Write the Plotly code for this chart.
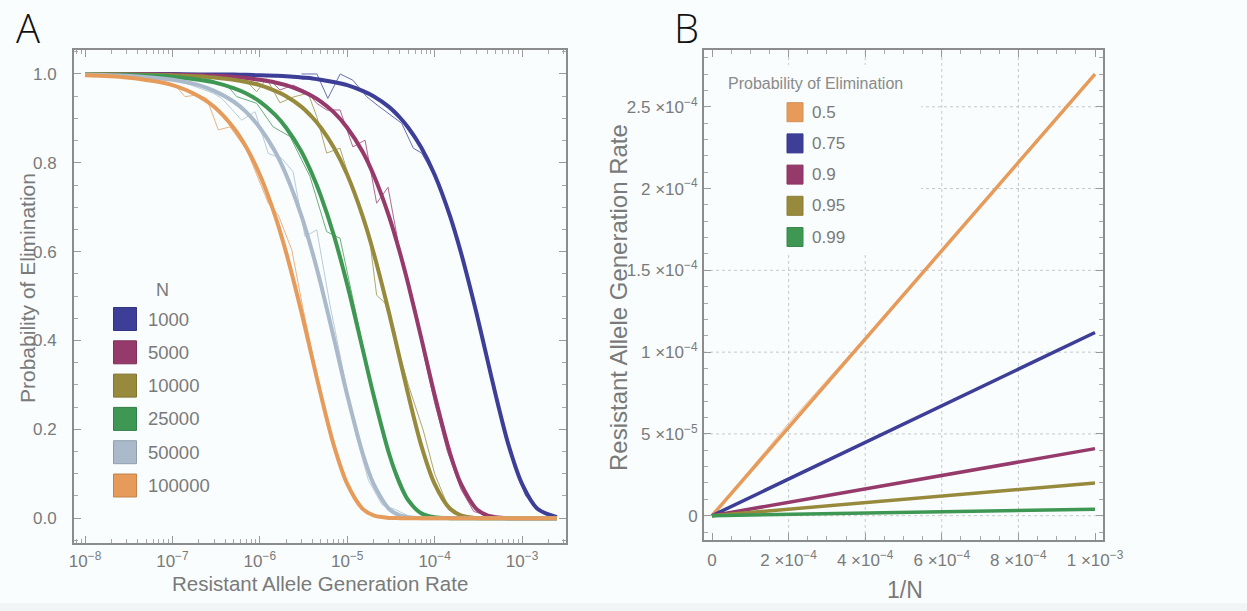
import numpy as np
import plotly.graph_objects as go

W, H = 1247, 611
PW = 1247
BG = "#f9fdfe"

# ---------------- Panel A data ----------------
N_LABELS = ["1000", "5000", "10000", "25000", "50000", "100000"]
COLORS_A = ["#3d3e97", "#963a6b", "#988a3c", "#3e9753", "#aabacb", "#e69b5a"]

MU_GRID = [1e-8, 3e-8, 1e-7, 2e-7, 3e-7, 5e-7, 7e-7, 1e-6, 1.5e-6, 2e-6, 3e-6, 4e-6,
           5e-6, 7e-6, 1e-5, 1.5e-5, 2e-5, 3e-5, 4e-5, 5e-5, 7e-5, 1e-4, 1.5e-4, 2e-4,
           3e-4, 4e-4, 5e-4, 7e-4, 1e-3, 1.5e-3, 2.5e-3]

P_1000 = [1.0, 1.0, 1.0, 0.999, 0.999, 0.999, 0.998, 0.997, 0.996, 0.995, 0.992, 0.990,
          0.987, 0.982, 0.975, 0.962, 0.950, 0.926, 0.902, 0.879, 0.835, 0.773, 0.680, 0.598,
          0.463, 0.358, 0.277, 0.165, 0.077, 0.021, 0.002]
P_5000 = [1.0, 1.0, 0.999, 0.997, 0.996, 0.994, 0.991, 0.987, 0.981, 0.975, 0.962, 0.950,
          0.938, 0.914, 0.879, 0.825, 0.773, 0.680, 0.598, 0.526, 0.407, 0.277, 0.146, 0.077,
          0.021, 0.006, 0.002, 0.0, 0.0, 0.0, 0.0]
P_10000 = [1.0, 0.999, 0.997, 0.995, 0.992, 0.987, 0.982, 0.975, 0.962, 0.950, 0.926, 0.902,
           0.879, 0.835, 0.773, 0.680, 0.598, 0.463, 0.358, 0.277, 0.165, 0.077, 0.021, 0.006,
           0.0, 0.0, 0.0, 0.0, 0.0, 0.0, 0.0]
P_25000 = [0.999, 0.998, 0.994, 0.987, 0.981, 0.968, 0.956, 0.938, 0.908, 0.879, 0.825, 0.773,
           0.725, 0.638, 0.526, 0.381, 0.277, 0.146, 0.077, 0.040, 0.011, 0.002, 0.0, 0.0,
           0.0, 0.0, 0.0, 0.0, 0.0, 0.0, 0.0]
P_50000 = [0.999, 0.996, 0.987, 0.975, 0.962, 0.938, 0.914, 0.879, 0.825, 0.773, 0.680, 0.598,
           0.526, 0.407, 0.277, 0.146, 0.077, 0.021, 0.006, 0.002, 0.0, 0.0, 0.0, 0.0,
           0.0, 0.0, 0.0, 0.0, 0.0, 0.0, 0.0]
P_100000 = [0.997, 0.992, 0.975, 0.950, 0.926, 0.879, 0.835, 0.773, 0.680, 0.598, 0.463, 0.358,
            0.277, 0.165, 0.077, 0.021, 0.006, 0.0005, 0.0, 0.0, 0.0, 0.0, 0.0, 0.0,
            0.0, 0.0, 0.0, 0.0, 0.0, 0.0, 0.0]
FIT_A = [P_1000, P_5000, P_10000, P_25000, P_50000, P_100000]

# simulation (thin) lines
SIM_X_1000 = [3e-6, 4.5e-6, 6e-6, 8.3e-6, 1.16e-5, 1.67e-5, 2.2e-5, 3e-5, 4.2e-5, 5.7e-5, 7.1e-5,
              1e-4, 1.4e-4, 2e-4, 2.8e-4, 4e-4, 5.6e-4, 8e-4, 1.1e-3, 1.6e-3, 2.5e-3]
SIM_Y_1000 = [1.0, 1.0, 0.945, 1.0, 0.986, 0.949, 0.93, 0.91, 0.889, 0.833, 0.822,
              0.77, 0.70, 0.60, 0.49, 0.36, 0.24, 0.12, 0.05, 0.015, 0.001]
SIM_X_5000 = [1e-6, 1.31e-6, 1.7e-6, 2.4e-6, 3.44e-6, 4.48e-6, 5.82e-6, 8.28e-6, 1.16e-5, 1.6e-5,
              2.17e-5, 2.93e-5, 4e-5, 5.5e-5, 7.5e-5, 1e-4, 1.4e-4, 2e-4, 2.8e-4, 4e-4, 5.6e-4, 8e-4]
SIM_Y_5000 = [0.99, 0.986, 0.964, 0.975, 0.96, 0.934, 0.919, 0.919, 0.836, 0.851,
              0.709, 0.745, 0.60, 0.50, 0.37, 0.26, 0.15, 0.065, 0.015, 0.006, 0.001, 0.0]
SIM_X_10000 = [5e-7, 7.08e-7, 9.2e-7, 1.2e-6, 1.7e-6, 2.4e-6, 3.56e-6, 4.48e-6, 5.82e-6, 8.28e-6,
               1.23e-5, 1.82e-5, 2.17e-5, 2.71e-5, 3.6e-5, 5e-5, 7.4e-5, 1e-4, 1.4e-4, 2e-4, 2.8e-4]
SIM_Y_10000 = [0.99, 0.983, 0.96, 0.99, 0.935, 0.948, 0.957, 0.904, 0.822, 0.833,
               0.724, 0.622, 0.502, 0.484, 0.40, 0.30, 0.198, 0.10, 0.03, 0.008, 0.001]
SIM_X_25000 = [2e-7, 4.18e-7, 5.44e-7, 9.2e-7, 1.42e-6, 2.22e-6, 3.75e-6, 5.82e-6, 8.28e-6,
               1.23e-5, 1.7e-5, 2.4e-5, 3.4e-5, 4.8e-5, 6.8e-5, 1e-4]
SIM_Y_25000 = [0.995, 0.975, 0.949, 0.934, 0.881, 0.859, 0.769, 0.645, 0.630,
               0.468, 0.34, 0.21, 0.12, 0.05, 0.012, 0.002]
SIM_X_50000 = [1e-7, 2.92e-7, 3.67e-7, 6.21e-7, 8.81e-7, 1.25e-6, 1.78e-6, 2.4e-6, 3.29e-6,
               4.48e-6, 6.35e-6, 9e-6, 1.25e-5, 1.75e-5, 2.5e-5, 3.5e-5, 5e-5]
SIM_Y_50000 = [0.99, 0.957, 0.945, 0.896, 0.915, 0.821, 0.81, 0.78, 0.634,
               0.649, 0.48, 0.33, 0.19, 0.085, 0.03, 0.02, 0.005]
SIM_X_100000 = [5e-8, 1.12e-7, 1.39e-7, 1.98e-7, 2.47e-7, 3.35e-7, 4.56e-7, 7.08e-7, 1.25e-6,
                1.63e-6, 2.32e-6, 3.15e-6, 4.4e-6, 6e-6, 8.5e-6, 1.2e-5, 1.7e-5, 2.4e-5]
SIM_Y_100000 = [0.99, 0.971, 0.949, 0.953, 0.945, 0.874, 0.881, 0.829, 0.709,
                0.682, 0.604, 0.468, 0.33, 0.21, 0.11, 0.045, 0.012, 0.002]
SIM_X = [SIM_X_1000, SIM_X_5000, SIM_X_10000, SIM_X_25000, SIM_X_50000, SIM_X_100000]
SIM_Y = [SIM_Y_1000, SIM_Y_5000, SIM_Y_10000, SIM_Y_25000, SIM_Y_50000, SIM_Y_100000]

A_XTICKS = [1e-8, 1e-7, 1e-6, 1e-5, 1e-4, 1e-3]
A_XTICKTEXT = ["10<sup>\u22128</sup>", "10<sup>\u22127</sup>", "10<sup>\u22126</sup>",
               "10<sup>\u22125</sup>", "10<sup>\u22124</sup>", "10<sup>\u22123</sup>"]
A_YTICKS = [0.0, 0.2, 0.4, 0.6, 0.8, 1.0]
A_YTICKTEXT = ["0.0", "0.2", "0.4", "0.6", "0.8", "1.0"]
A_GRID_X = [1.52e-8, 1.10e-7, 8.15e-7, 6.03e-6, 4.47e-5, 3.30e-4]

# ---------------- Panel B data ----------------
P_LABELS = ["0.5", "0.75", "0.9", "0.95", "0.99"]
COLORS_B = ["#e69b5a", "#3d3e97", "#963a6b", "#988a3c", "#3e9753"]
INV_N = [0.0, 1e-3]
RATE_05 = [0.0, 2.70e-4]
RATE_075 = [0.0, 1.12e-4]
RATE_09 = [0.0, 4.1e-5]
RATE_095 = [0.0, 2.0e-5]
RATE_099 = [0.0, 4.0e-6]
RATES_B = [RATE_05, RATE_075, RATE_09, RATE_095, RATE_099]

SIM_INV_N = [0.0, 1e-5, 2e-5, 4e-5, 1e-4, 2e-4, 4e-4, 1e-3]
SIM_RATE_05 = [0.0, 2.8e-6, 5.6e-6, 1.12e-5, 2.85e-5, 5.65e-5, 1.09e-4, 2.70e-4]
SIM_RATE_075 = [0.0, 1.15e-6, 2.3e-6, 4.6e-6, 1.17e-5, 2.32e-5, 4.52e-5, 1.12e-4]

B_XTICKS = [0.0, 2e-4, 4e-4, 6e-4, 8e-4, 1e-3]
B_XTICKTEXT = ["0", "2 \u00d710<sup>\u22124</sup>", "4 \u00d710<sup>\u22124</sup>",
               "6 \u00d710<sup>\u22124</sup>", "8 \u00d710<sup>\u22124</sup>", "1 \u00d710<sup>\u22123</sup>"]
B_YTICKS = [0.0, 5e-5, 1e-4, 1.5e-4, 2e-4, 2.5e-4]
B_YTICKTEXT = ["0", "5 \u00d710<sup>\u22125</sup>", "1 \u00d710<sup>\u22124</sup>",
               "1.5 \u00d710<sup>\u22124</sup>", "2 \u00d710<sup>\u22124</sup>", "2.5 \u00d710<sup>\u22124</sup>"]
B_GRID_X = [2e-4, 4e-4, 6e-4, 8e-4]

# ---------------- figure ----------------
fig = go.Figure()

for xs, ys, c in zip(SIM_X, SIM_Y, COLORS_A):
    fig.add_trace(go.Scatter(x=xs, y=ys, mode="lines", line=dict(color=c, width=1),
                             opacity=0.75, xaxis="x", yaxis="y", showlegend=False, hoverinfo="skip"))
for ys, c in zip(FIT_A, COLORS_A):
    fig.add_trace(go.Scatter(x=MU_GRID, y=ys, mode="lines",
                             line=dict(color=c, width=4, shape="spline", smoothing=0.8),
                             xaxis="x", yaxis="y", showlegend=False))

fig.add_trace(go.Scatter(x=SIM_INV_N, y=SIM_RATE_05, mode="lines", line=dict(color=COLORS_B[0], width=1),
                         opacity=0.6, xaxis="x2", yaxis="y2", showlegend=False))
fig.add_trace(go.Scatter(x=SIM_INV_N, y=SIM_RATE_075, mode="lines", line=dict(color=COLORS_B[1], width=1),
                         opacity=0.6, xaxis="x2", yaxis="y2", showlegend=False))
for ys, c in zip(RATES_B, COLORS_B):
    fig.add_trace(go.Scatter(x=INV_N, y=ys, mode="lines", line=dict(color=c, width=3.5),
                             xaxis="x2", yaxis="y2", showlegend=False))

A_XR = [-8.126, -2.497]
A_YR = [-0.056, 1.054]
B_XR = [-2.09e-5, 1.0209e-3]
B_YR = [-1.485e-5, 2.847e-4]

TXT = "#7a7a7a"
FONT = "Liberation Sans"
common = dict(showline=True, linecolor="#8c8c8c", linewidth=2, mirror="ticks", ticks="inside",
              ticklen=7, tickwidth=1, tickcolor="#9a9a9a", showgrid=False, zeroline=False,
              automargin=False, tickfont=dict(size=17, color=TXT, family=FONT))
minor = dict(ticks="inside", ticklen=4, tickwidth=1, tickcolor="#a8a8a8", showgrid=False)

a_minor = [d * 10.0 ** e for e in range(-9, -2) for d in range(2, 10)]


def fx(p):
    return p / PW


def fy(p):
    return 1 - p / H


fig.update_layout(
    width=W, height=H, autosize=False, margin=dict(l=0, r=0, t=0, b=0, pad=0),
    paper_bgcolor=BG, plot_bgcolor="rgba(0,0,0,0)",
    font=dict(family=FONT, color=TXT),
    xaxis=dict(domain=[fx(74), fx(566)], anchor="y", type="log", range=A_XR,
               tickvals=A_XTICKS, ticktext=A_XTICKTEXT, ticklabelstandoff=2,
               minor=dict(tickvals=a_minor, **minor), **common),
    yaxis=dict(domain=[fy(543), fy(50)], anchor="x", range=A_YR,
               tickvals=A_YTICKS, ticktext=A_YTICKTEXT, ticklabelstandoff=12,
               minor=dict(dtick=0.05, tick0=0, **minor), **common),
    xaxis2=dict(domain=[fx(704), fx(1103)], anchor="y2", range=B_XR,
                tickvals=B_XTICKS, ticktext=B_XTICKTEXT, ticklabelstandoff=4,
                minor=dict(dtick=5e-5, tick0=0, **minor), **common),
    yaxis2=dict(domain=[fy(540), fy(50)], anchor="x2", range=B_YR,
                tickvals=B_YTICKS, ticktext=B_YTICKTEXT, ticklabelstandoff=1,
                minor=dict(dtick=1e-5, tick0=0, **minor), **common),
)

GRID = dict(color="#c8c8c8", width=1, dash="3px,3px")
shapes = []
for v in A_YTICKS:
    shapes.append(dict(type="line", xref="x", yref="y", x0=A_XR[0], x1=A_XR[1], y0=v, y1=v,
                       line=GRID, layer="below"))
for g in A_GRID_X:
    lg = float(np.log10(g))
    shapes.append(dict(type="line", xref="x", yref="y", x0=lg, x1=lg, y0=A_YR[0], y1=A_YR[1],
                       line=GRID, layer="below"))
shapes.append(dict(type="rect", xref="x", yref="y", x0=A_XR[0] + 0.02, x1=-6.547, y0=0.0225, y1=0.554,
                   fillcolor=BG, line=dict(width=0), layer="below"))
for v in B_YTICKS:
    shapes.append(dict(type="line", xref="x2", yref="y2", x0=B_XR[0], x1=B_XR[1], y0=v, y1=v,
                       line=GRID, layer="below"))
for g in B_GRID_X:
    shapes.append(dict(type="line", xref="x2", yref="y2", x0=g, x1=g, y0=B_YR[0], y1=B_YR[1],
                       line=GRID, layer="below"))
shapes.append(dict(type="rect", xref="x2", yref="y2", x0=B_XR[0] + 5e-6, x1=5.457e-4, y0=1.606e-4, y1=2.755e-4,
                   fillcolor=BG, line=dict(width=0), layer="below"))
shapes.append(dict(type="rect", xref="paper", yref="paper", x0=0, x1=1, y0=0, y1=8 / H,
                   fillcolor="#f2f5f6", line=dict(width=0), layer="below"))


def darker(hexc, f=0.85):
    r, g, b = int(hexc[1:3], 16), int(hexc[3:5], 16), int(hexc[5:7], 16)
    return "rgb(%d,%d,%d)" % (r * f, g * f, b * f)


annotations = []
# legend A
for i, (lab, c) in enumerate(zip(N_LABELS, COLORS_A)):
    cy = 319 + i * 33.3
    shapes.append(dict(type="rect", xref="paper", yref="paper", x0=fx(113.5), x1=fx(136.5),
                       y0=fy(cy + 11.5), y1=fy(cy - 11.5), fillcolor=c,
                       line=dict(color=darker(c), width=1), layer="above"))
    annotations.append(dict(text=lab, x=fx(146), y=fy(cy), xref="paper", yref="paper",
                            xanchor="left", yanchor="middle", showarrow=False,
                            font=dict(size=18.5, color=TXT, family=FONT)))
annotations.append(dict(text="N", x=fx(162.5), y=fy(290), xref="paper", yref="paper",
                        xanchor="center", yanchor="middle", showarrow=False,
                        font=dict(size=18, color=TXT, family=FONT)))
# legend B
for i, (lab, c) in enumerate(zip(P_LABELS, COLORS_B)):
    cy = 112.2 + i * 31.2
    shapes.append(dict(type="rect", xref="paper", yref="paper", x0=fx(787), x1=fx(803),
                       y0=fy(cy + 9.5), y1=fy(cy - 9.5), fillcolor=c,
                       line=dict(color=darker(c, 0.92), width=1), layer="above"))
    annotations.append(dict(text=lab, x=fx(810), y=fy(cy), xref="paper", yref="paper",
                            xanchor="left", yanchor="middle", showarrow=False,
                            font=dict(size=17, color=TXT, family=FONT)))
annotations.append(dict(text="Probability of Elimination", x=fx(815), y=fy(83), xref="paper", yref="paper",
                        xanchor="center", yanchor="middle", showarrow=False,
                        font=dict(size=16, color="#8a8a8a", family=FONT)))

# axis titles
annotations.append(dict(text="Probability of Elimination", x=fx(28), y=fy(288), xref="paper", yref="paper",
                        xanchor="center", yanchor="middle", textangle=-90, showarrow=False,
                        font=dict(size=21, color=TXT, family=FONT)))
annotations.append(dict(text="Resistant Allele Generation Rate", x=fx(320), y=fy(583), xref="paper",
                        yref="paper", xanchor="center", yanchor="middle", showarrow=False,
                        font=dict(size=20.5, color=TXT, family=FONT)))
annotations.append(dict(text="Resistant Allele Generation Rate", x=fx(618), y=fy(298), xref="paper",
                        yref="paper", xanchor="center", yanchor="middle", textangle=-90, showarrow=False,
                        font=dict(size=24, color=TXT, family=FONT)))
annotations.append(dict(text="1/N", x=fx(905), y=fy(590), xref="paper", yref="paper",
                        xanchor="center", yanchor="middle", showarrow=False,
                        font=dict(size=23, color=TXT, family=FONT)))
# panel letters
annotations.append(dict(text="A", x=fx(28), y=fy(27), xref="paper", yref="paper",
                        xanchor="center", yanchor="middle", showarrow=False,
                        font=dict(size=40, color="#111111", family="Open Sans", weight=300)))
annotations.append(dict(text="B", x=fx(686), y=fy(27), xref="paper", yref="paper",
                        xanchor="center", yanchor="middle", showarrow=False,
                        font=dict(size=40, color="#111111", family="Open Sans", weight=300)))

fig.update_layout(shapes=shapes, annotations=annotations)

fig.write_html("out.html", default_width="1247px", default_height="611px",
               config={"displayModeBar": False, "responsive": False},
               post_script="document.body.style.margin='0';document.body.style.overflow='hidden';")
